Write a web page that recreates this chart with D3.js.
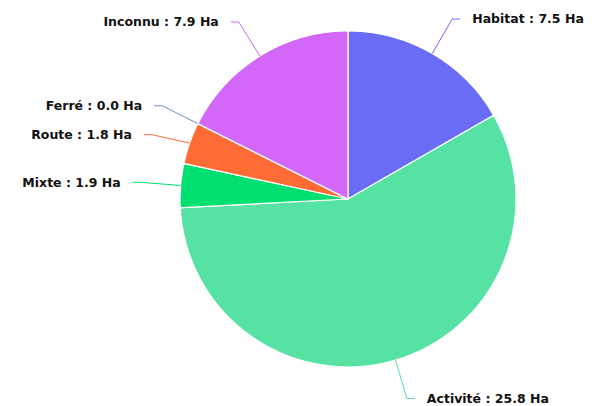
<!DOCTYPE html>
<html>
<head>
<meta charset="utf-8">
<script src="https://cdn.jsdelivr.net/npm/d3@7"></script>
<style>
  body { margin: 0; background: #fff; }
  text { font-family: "DejaVu Sans", sans-serif; font-weight: bold; font-size: 12.5px; fill: #111; }
</style>
</head>
<body>
<div id="pie"></div>
<script>
// data
var categories = ["Habitat", "Activité", "Mixte", "Route", "Ferré", "Inconnu"];
var surfaces = [7.5, 25.8, 1.9, 1.8, 0.0, 7.9];
var palette = ["#6a6cf5", "#55e2a2", "#00e070", "#ff6b35", "#6f8fc6", "#d267f8"];

const width = 600, height = 406;
const cx = 348, cy = 199, radius = 168;
const len1 = 40, len2 = 8, gap = 12;

var svg = d3.select("#pie").append("svg")
  .attr("width", width)
  .attr("height", height);

var g = svg.append("g").attr("transform", "translate(" + cx + "," + cy + ")");

var pie = d3.pie().sort(null).value(function(d){ return d; });
var arcs = pie(surfaces);

var arc = d3.arc().innerRadius(0).outerRadius(radius).cornerRadius(2);

/* slices */
g.selectAll("path.slice")
  .data(arcs)
  .enter().append("path")
  .attr("class", "slice")
  .attr("d", arc)
  .style("fill", function(d, i){ return palette[i]; })
  .style("stroke", "#fff")
  .style("stroke-width", 1.2);

/* label positions : radial point then push apart on each side */
var labels = arcs.map(function(d, i){
  var a = (d.startAngle + d.endAngle) / 2;
  var s = Math.sin(a), c = -Math.cos(a);
  return {
    i: i,
    right: s >= 0,
    x0: radius * s, y0: radius * c,
    x1: (radius + len1) * s, y1: (radius + len1) * c
  };
});
[true, false].forEach(function(side){
  var list = labels.filter(function(l){ return l.right === side; })
    .sort(function(a, b){ return a.y1 - b.y1; });
  for (var k = 1; k < list.length; k++) {
    if (list[k].y1 < list[k-1].y1 + 29) list[k].y1 = list[k-1].y1 + 29;
  }
});

g.selectAll("polyline.guide")
  .data(labels)
  .enter().append("polyline")
  .attr("class", "guide")
  .attr("points", function(l){
    var x2 = l.x1 + (l.right ? len2 : -len2);
    return [[l.x0, l.y0], [l.x1, l.y1], [x2, l.y1]].join(" ");
  })
  .style("fill", "none")
  .style("stroke", function(l){ return palette[l.i]; })
  .style("stroke-width", 1);

g.selectAll("text.lbl")
  .data(labels)
  .enter().append("text")
  .attr("class", "lbl")
  .attr("x", function(l){ return l.x1 + (l.right ? len2 + gap : -len2 - gap); })
  .attr("y", function(l){ return l.y1; })
  .attr("dy", ".35em")
  .style("text-anchor", function(l){ return l.right ? "start" : "end"; })
  .text(function(l){ return categories[l.i] + " : " + surfaces[l.i].toFixed(1) + " Ha"; });
</script>
</body>
</html>
